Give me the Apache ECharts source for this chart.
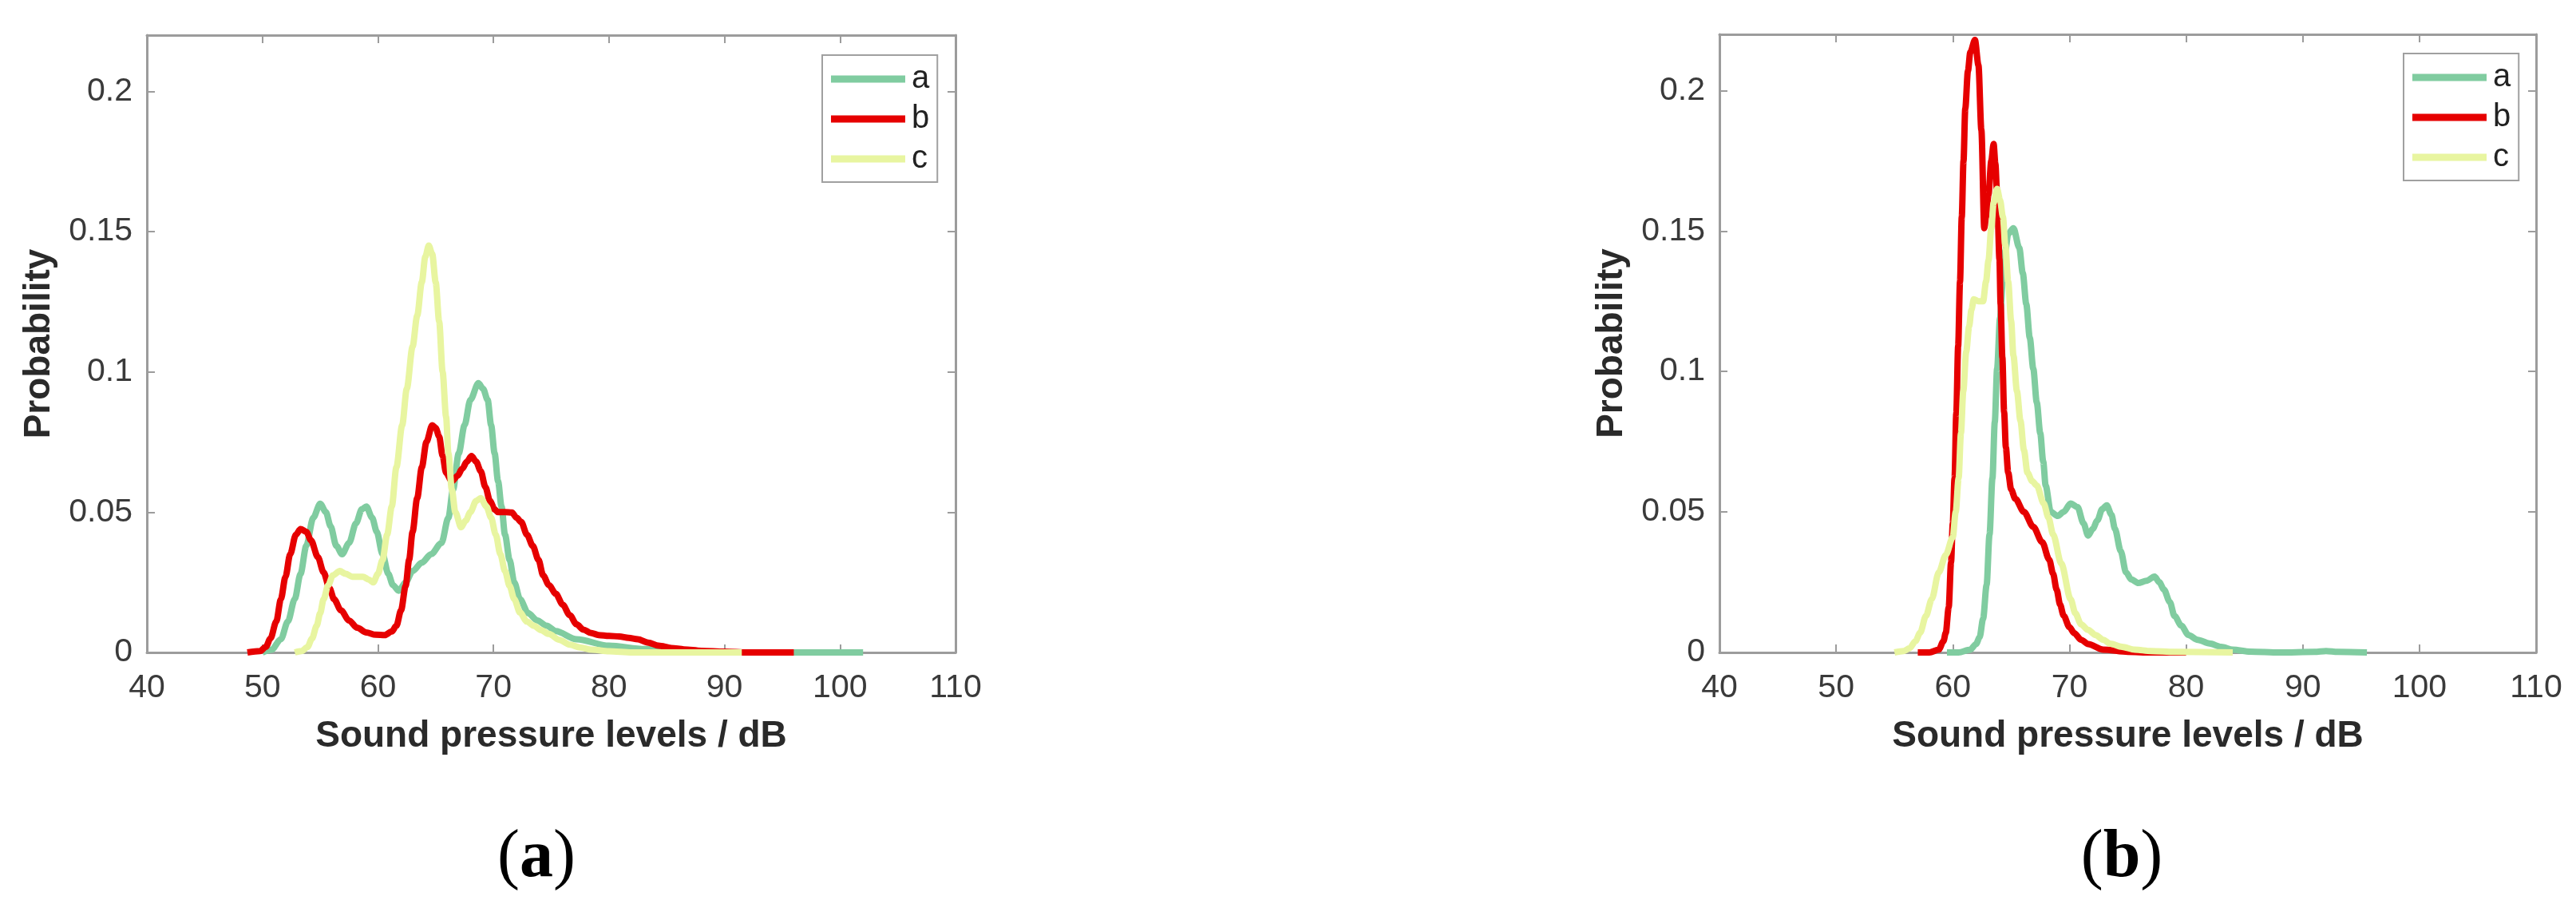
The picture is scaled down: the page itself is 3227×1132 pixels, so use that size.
<!DOCTYPE html>
<html>
<head>
<meta charset="utf-8">
<script src="https://cdn.jsdelivr.net/npm/echarts@6/dist/echarts.min.js"></script>
<style>
html,body{margin:0;padding:0;background:#fff;}
#chart{width:3227px;height:1132px;}
</style>
</head>
<body>
<div id="chart"></div>
<script>
// ---- data (x = sound pressure level dB, y = probability) ----
const seriesNames = ['a', 'b', 'c'];
const xTicks = [40, 50, 60, 70, 80, 90, 100, 110];
const yTicks = [0, 0.05, 0.1, 0.15, 0.2];

const leftA = [[50.0,0],[50.8,0.001],[51.6,0.0047],[52.2,0.011],[52.8,0.019],[53.3,0.028],[53.8,0.038],[54.4,0.048],[55.0,0.053],[55.5,0.050],[55.9,0.045],[56.4,0.038],[56.9,0.035],[57.5,0.039],[58.1,0.046],[58.6,0.051],[59.0,0.052],[59.5,0.048],[59.9,0.043],[60.4,0.035],[60.9,0.028],[61.3,0.024],[61.8,0.022],[62.4,0.025],[63.0,0.029],[63.8,0.032],[64.6,0.035],[65.5,0.039],[66.1,0.048],[66.5,0.058],[67.0,0.071],[67.5,0.081],[68.0,0.090],[68.7,0.096],[69.1,0.094],[69.5,0.090],[69.8,0.081],[70.1,0.071],[70.4,0.061],[70.7,0.052],[71.0,0.042],[71.4,0.033],[71.8,0.025],[72.3,0.019],[73.0,0.014],[73.8,0.0114],[74.6,0.0095],[75.4,0.0076],[77.2,0.0047],[80.0,0.0024],[83.1,0.0012],[86.0,0.0004],[89.0,0],[102,0]];
const leftB = [[48.7,0],[49.8,0.0005],[50.3,0.002],[50.7,0.005],[51.2,0.011],[51.6,0.019],[52.0,0.027],[52.4,0.035],[52.9,0.042],[53.3,0.044],[53.8,0.043],[54.2,0.040],[54.8,0.034],[55.3,0.0285],[55.8,0.023],[56.2,0.019],[56.8,0.015],[57.5,0.0114],[58.2,0.0088],[59.0,0.0071],[59.8,0.0063],[60.6,0.0062],[61.2,0.0075],[61.6,0.0095],[62.0,0.015],[62.4,0.0237],[62.7,0.033],[63.0,0.043],[63.4,0.055],[63.8,0.066],[64.2,0.075],[64.7,0.081],[65.0,0.080],[65.3,0.077],[65.6,0.070],[65.9,0.064],[66.4,0.061],[66.9,0.063],[67.3,0.0655],[67.7,0.068],[68.1,0.070],[68.5,0.068],[68.9,0.0646],[69.3,0.059],[69.7,0.054],[70.1,0.051],[70.4,0.050],[71.0,0.050],[71.6,0.0499],[72.0,0.048],[72.4,0.0465],[72.9,0.042],[73.4,0.038],[73.9,0.033],[74.3,0.0275],[74.8,0.024],[75.4,0.0209],[76.0,0.017],[76.6,0.0133],[77.2,0.010],[77.8,0.0081],[78.4,0.007],[79.1,0.0062],[80.0,0.0059],[80.9,0.0057],[81.7,0.0052],[82.5,0.0047],[83.4,0.0035],[84.3,0.0024],[85.4,0.0016],[86.5,0.0011],[88.0,0.0006],[90.0,0.0003],[92.0,0],[96,0]];
const leftC = [[52.8,0],[53.4,0.0005],[53.9,0.0019],[54.3,0.005],[54.7,0.0095],[55.0,0.014],[55.3,0.019],[55.7,0.024],[56.1,0.0275],[56.7,0.029],[57.2,0.028],[57.8,0.027],[58.3,0.027],[58.7,0.027],[59.2,0.026],[59.6,0.025],[60.0,0.028],[60.4,0.033],[60.8,0.042],[61.2,0.052],[61.6,0.066],[62.1,0.081],[62.5,0.094],[63.0,0.109],[63.4,0.120],[63.8,0.132],[64.1,0.141],[64.4,0.145],[64.7,0.142],[65.0,0.132],[65.3,0.118],[65.6,0.100],[65.9,0.084],[66.1,0.071],[66.4,0.058],[66.7,0.050],[67.2,0.0446],[67.6,0.047],[68.0,0.050],[68.5,0.054],[68.9,0.055],[69.4,0.052],[69.8,0.048],[70.2,0.042],[70.6,0.035],[71.0,0.029],[71.4,0.0237],[71.8,0.019],[72.3,0.0142],[72.9,0.011],[73.5,0.0095],[74.1,0.008],[74.8,0.0066],[75.7,0.0045],[76.6,0.0028],[77.5,0.0018],[78.5,0.001],[80.0,0.0004],[82.0,0],[91.5,0]];

const rightA = [[59.5,0],[60.5,0],[61.5,0.001],[62.0,0.003],[62.3,0.0054],[62.6,0.012],[62.9,0.024],[63.15,0.042],[63.4,0.062],[63.6,0.082],[63.8,0.101],[64.05,0.119],[64.3,0.133],[64.5,0.143],[64.75,0.149],[65.2,0.151],[65.7,0.144],[66.0,0.135],[66.3,0.124],[66.6,0.112],[66.9,0.101],[67.2,0.089],[67.5,0.078],[67.75,0.068],[67.96,0.0594],[68.4,0.050],[69.0,0.0486],[69.5,0.050],[70.1,0.053],[70.7,0.0517],[71.2,0.046],[71.6,0.0416],[72.0,0.044],[72.4,0.047],[72.8,0.051],[73.2,0.0524],[73.6,0.049],[73.9,0.044],[74.4,0.036],[74.85,0.0285],[75.3,0.026],[75.9,0.0247],[76.6,0.0255],[77.3,0.027],[77.7,0.025],[78.1,0.0224],[78.6,0.018],[79.0,0.013],[79.6,0.0095],[80.2,0.0062],[81.0,0.0045],[82.0,0.0032],[83.0,0.002],[84.0,0.001],[85.5,0.0003],[88.0,0],[91.0,0.0002],[92.0,0.0005],[93.0,0.0002],[95.5,0]];
const rightB = [[57.0,0],[58.0,0],[58.8,0.001],[59.2,0.004],[59.4,0.007],[59.65,0.016],[59.85,0.032],[60.0,0.046],[60.15,0.062],[60.3,0.085],[60.46,0.109],[60.62,0.132],[60.77,0.155],[60.92,0.175],[61.07,0.1935],[61.3,0.207],[61.5,0.2136],[61.9,0.218],[62.2,0.209],[62.45,0.186],[62.7,0.151],[62.85,0.155],[63.06,0.163],[63.3,0.175],[63.5,0.181],[63.65,0.174],[63.8,0.163],[64.0,0.140],[64.1,0.124],[64.25,0.105],[64.4,0.0856],[64.55,0.073],[64.75,0.064],[65.0,0.058],[65.36,0.0547],[66.1,0.050],[66.9,0.0447],[67.66,0.0393],[68.27,0.033],[68.6,0.028],[68.9,0.0224],[69.2,0.017],[69.5,0.0131],[70.0,0.009],[70.4,0.0069],[71.0,0.0045],[71.6,0.003],[72.9,0.001],[75.0,0.0002],[77.0,0],[80.0,0]];
const rightC = [[55.0,0],[55.8,0.0005],[56.3,0.0015],[56.8,0.004],[57.2,0.007],[57.7,0.013],[58.2,0.019],[58.8,0.0285],[59.4,0.0347],[60.0,0.041],[60.25,0.050],[60.5,0.062],[60.7,0.078],[60.9,0.093],[61.15,0.107],[61.4,0.116],[61.6,0.122],[61.8,0.1257],[62.2,0.125],[62.6,0.125],[62.85,0.132],[63.06,0.1395],[63.3,0.151],[63.5,0.160],[63.8,0.165],[64.05,0.161],[64.3,0.155],[64.5,0.145],[64.75,0.132],[65.0,0.118],[65.2,0.1056],[65.5,0.093],[65.8,0.0825],[66.1,0.072],[66.4,0.064],[66.8,0.061],[67.2,0.0594],[67.8,0.053],[68.2,0.048],[68.6,0.042],[69.3,0.0316],[70.1,0.019],[70.5,0.014],[71.0,0.010],[71.6,0.008],[72.25,0.0062],[72.9,0.0045],[73.5,0.0031],[74.5,0.002],[75.6,0.001],[77.0,0.0005],[79.0,0.0002],[84.0,0]];

const panelLabels = ['a', 'b'];
const xTitle = 'Sound pressure levels / dB';
const yTitle = 'Probability';

// ---- styling ----
const colors = ['#80cca0', '#e60000', '#e8f5a0'];
const axisGray = '#9c9c9c';
const textColor = '#3a3a3a';
const sans = '"Liberation Sans", Arial, sans-serif';
const serif = '"Liberation Serif", "DejaVu Serif", serif';

const grids = [
  { left: 184, top: 44, width: 1013, height: 773 },
  { left: 2154, top: 43, width: 1023, height: 774 }
];

function xAxes(gi) {
  const base = {
    type: 'value', gridIndex: gi, min: xTicks[0], max: xTicks[xTicks.length - 1], interval: 10,
    splitLine: { show: false },
    axisLine: { show: true, onZero: false, lineStyle: { color: axisGray, width: 3 } },
    axisTick: { show: true, inside: true, length: 10, lineStyle: { color: axisGray, width: 2 } }
  };
  return [
    Object.assign({}, base, {
      position: 'bottom',
      axisLabel: { show: true, fontSize: 41, fontFamily: sans, color: textColor, margin: 24 },
      name: xTitle, nameLocation: 'middle', nameGap: 82,
      nameTextStyle: { fontSize: 46, fontWeight: 'bold', fontFamily: sans, color: '#2a2a2a' }
    }),
    Object.assign({}, base, { position: 'top', axisLabel: { show: false } })
  ];
}
function yAxes(gi) {
  const base = {
    type: 'value', gridIndex: gi, min: 0, max: 0.22, interval: 0.05,
    splitLine: { show: false },
    axisLine: { show: true, onZero: false, lineStyle: { color: axisGray, width: 3 } },
    axisTick: { show: true, inside: true, length: 10, lineStyle: { color: axisGray, width: 2 } }
  };
  return [
    Object.assign({}, base, {
      position: 'left',
      axisLabel: { show: true, fontSize: 41, fontFamily: sans, color: textColor, margin: 18, showMaxLabel: false },
      name: yTitle, nameLocation: 'middle', nameGap: 112,
      nameTextStyle: { fontSize: 46, fontWeight: 'bold', fontFamily: sans, color: '#2a2a2a' }
    }),
    Object.assign({}, base, { position: 'right', axisLabel: { show: false } })
  ];
}

function lineSeries(name, data, idx, gi) {
  return {
    type: 'line', name: name, data: data,
    xAxisIndex: gi * 2, yAxisIndex: gi * 2,
    showSymbol: false, symbol: 'none', smooth: 0.3, smoothMonotone: 'x',
    lineStyle: { color: colors[idx], width: 8, cap: 'butt', join: 'round' },
    itemStyle: { color: colors[idx] },
    clip: true
  };
}

function legend(left, top) {
  return {
    left: left, top: top, orient: 'vertical',
    data: seriesNames.map(n => ({ name: n, icon: 'rect' })),
    itemWidth: 93, itemHeight: 9, itemGap: 10,
    backgroundColor: '#ffffff', borderColor: '#a0a0a0', borderWidth: 2, borderRadius: 0,
    padding: [10, 10, 9, 11],
    textStyle: { fontSize: 40, fontFamily: sans, color: '#222', lineHeight: 40, padding: [0, 0, 0, 3] },
    selectedMode: false
  };
}

const leftData = [leftA, leftB, leftC];
const rightData = [rightA, rightB, rightC];

const option = {
  backgroundColor: '#ffffff',
  animation: false,
  grid: grids,
  xAxis: xAxes(0).concat(xAxes(1)),
  yAxis: yAxes(0).concat(yAxes(1)),
  legend: [legend(1030, 69), legend(3011, 67)],
  series: seriesNames.map((n, i) => lineSeries(n, leftData[i], i, 0))
    .concat(seriesNames.map((n, i) => lineSeries(n, rightData[i], i, 1))),
  graphic: [
    { type: 'text', x: 672, y: 1075, style: { text: '{p|(}{b|' + panelLabels[0] + '}{p|)}', align: 'center', verticalAlign: 'middle',
      rich: { p: { fontSize: 84, fontFamily: serif, fill: '#000' }, b: { fontSize: 84, fontFamily: serif, fontWeight: 'bold', fill: '#000' } } } },
    { type: 'text', x: 2658, y: 1075, style: { text: '{p|(}{b|' + panelLabels[1] + '}{p|)}', align: 'center', verticalAlign: 'middle',
      rich: { p: { fontSize: 84, fontFamily: serif, fill: '#000' }, b: { fontSize: 84, fontFamily: serif, fontWeight: 'bold', fill: '#000' } } } }
  ]
};

const chart = echarts.init(document.getElementById('chart'), null, { renderer: 'canvas' });
chart.setOption(option);
</script>
</body>
</html>
